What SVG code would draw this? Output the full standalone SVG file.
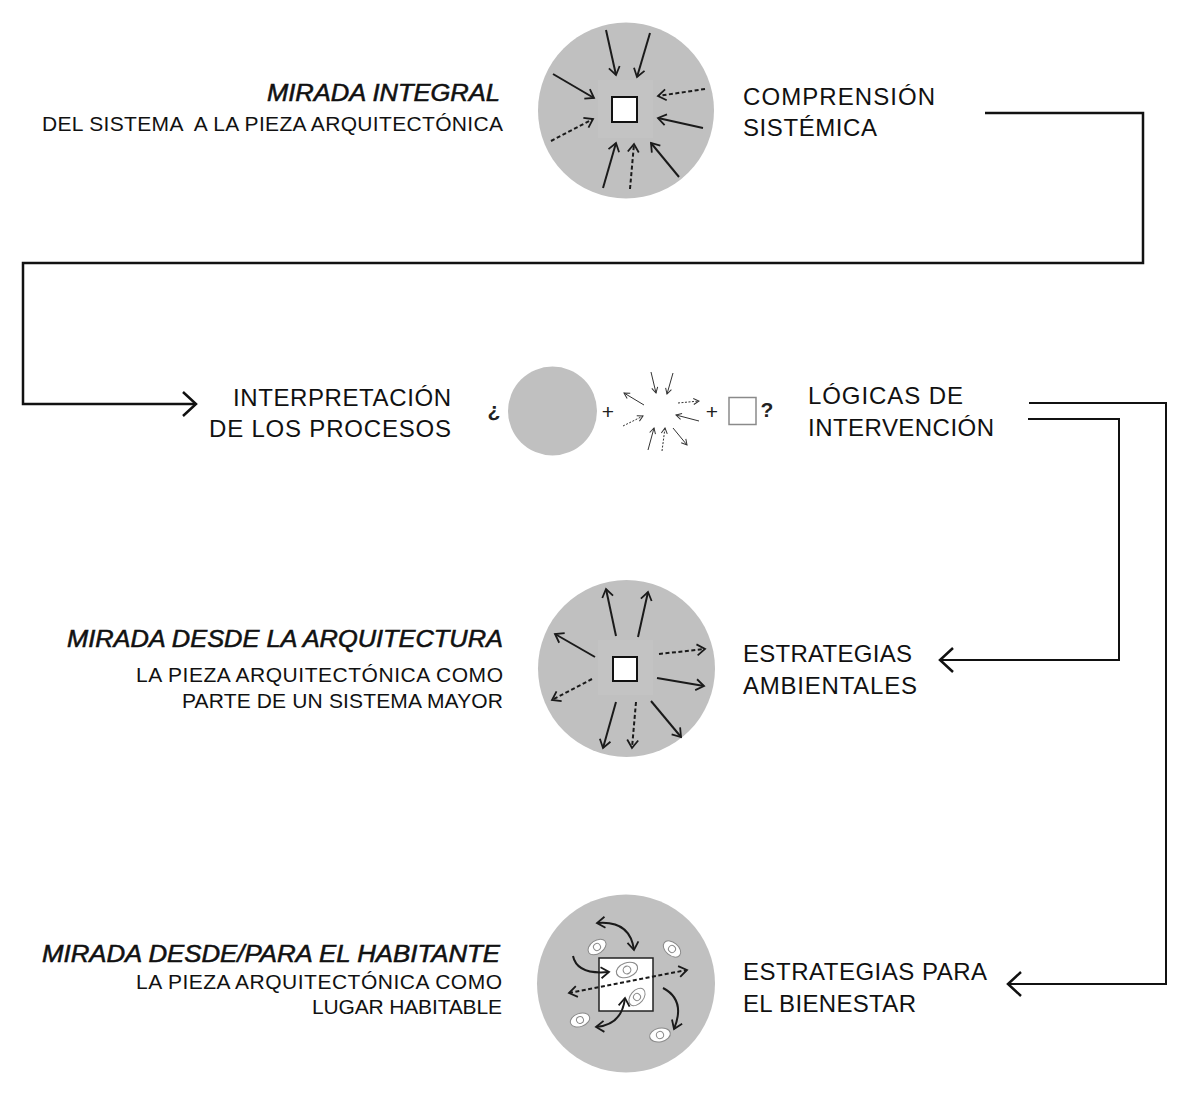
<svg xmlns="http://www.w3.org/2000/svg" width="1192" height="1094" viewBox="0 0 1192 1094">
<style>
.lbl{font-family:"Liberation Sans",Arial,sans-serif;font-size:24px;fill:#111}
.sub{font-family:"Liberation Sans",Arial,sans-serif;font-size:21px;fill:#111}
.ttl{font-family:"Liberation Sans",Arial,sans-serif;font-style:italic;font-weight:normal;font-size:23.5px;fill:#111;stroke:#111;stroke-width:0.55}
.sym{font-family:"Liberation Sans",Arial,sans-serif;font-size:21px;fill:#222;text-anchor:middle}
.disc{fill:#c0c0c0}
.halo{fill:#c3c3c3}
.a{fill:none;stroke:#1a1a1a;stroke-width:2;marker-end:url(#ah)}
.d{stroke-dasharray:4 2.5}
.s{fill:none;stroke:#333;stroke-width:1;marker-end:url(#as)}
.sd{stroke-dasharray:2 1.5}
.c{fill:none;stroke:#111;stroke-linejoin:miter}
.b{marker-start:url(#ah)}
</style>
<defs>
<marker id="ah" viewBox="0 0 12 14" refX="10" refY="7" markerWidth="12" markerHeight="14" markerUnits="userSpaceOnUse" orient="auto-start-reverse"><path d="M2,1.5 L10,7 L2,12.5" fill="none" stroke="#1a1a1a" stroke-width="1.8"/></marker>
<marker id="as" viewBox="0 0 8 8" refX="7" refY="4" markerWidth="8" markerHeight="8" markerUnits="userSpaceOnUse" orient="auto"><path d="M1.5,1 L7,4 L1.5,7" fill="none" stroke="#333" stroke-width="1"/></marker>
<marker id="ac" viewBox="0 0 17 28" refX="15" refY="14" markerWidth="17" markerHeight="28" markerUnits="userSpaceOnUse" orient="auto"><path d="M2,2 L15,14 L2,26" fill="none" stroke="#111" stroke-width="2.5"/></marker>
<g id="person"><ellipse cx="0" cy="0" rx="10" ry="6.5" fill="#fff" stroke="#8a8a8a" stroke-width="1"/><circle cx="0" cy="0" r="3.5" fill="none" stroke="#8a8a8a" stroke-width="1"/></g>
</defs>

<g id="connectors">
<polyline class="c" stroke-width="2.5" points="985,113 1143,113 1143,263 23,263 23,404 196,404" marker-end="url(#ac)"/>
<polyline class="c" stroke-width="2" points="1029,403 1166,403 1166,984 1008,984" marker-end="url(#ac)"/>
<polyline class="c" stroke-width="2" points="1028,419 1119,419 1119,660 940,660" marker-end="url(#ac)"/>
</g>

<g id="node-integral">
<text class="ttl" x="267" y="100.5" textLength="233" lengthAdjust="spacingAndGlyphs">MIRADA INTEGRAL</text>
<text class="sub" x="42" y="131" textLength="461" xml:space="preserve">DEL SISTEMA  A LA PIEZA ARQUITECTÓNICA</text>
</g>

<g id="node-circle-1">
<circle class="disc" cx="626" cy="110.5" r="88"/>
<rect class="halo" x="598" y="80" width="55" height="58"/>
<rect x="612" y="97" width="25" height="25" fill="#fff" stroke="#111" stroke-width="2"/>
<path class="a" d="M606,30 L616,75"/>
<path class="a" d="M650,33 L637,77"/>
<path class="a" d="M553,74 L594,98"/>
<path class="a d" d="M705,89 L658,96"/>
<path class="a" d="M703,128 L658,118"/>
<path class="a d" d="M551,141 L593,119"/>
<path class="a" d="M603,188 L616,143"/>
<path class="a d" d="M630,189 L634,144"/>
<path class="a" d="M679,177 L651,143"/>
</g>

<g id="node-comprension">
<text class="lbl" x="743" y="104.5" textLength="192">COMPRENSIÓN</text>
<text class="lbl" x="743" y="136" textLength="134">SISTÉMICA</text>
</g>

<g id="node-interpretacion">
<text class="lbl" x="233" y="405.5" textLength="218">INTERPRETACIÓN</text>
<text class="lbl" x="209" y="437" textLength="242">DE LOS PROCESOS</text>
</g>

<g id="node-equation">
<text class="sym" x="494" y="417" font-weight="bold" font-size="14">¿</text>
<circle class="disc" cx="552.5" cy="411" r="44.5"/>
<text class="sym" x="608" y="419">+</text>
<path class="s" d="M651,372 L656,393"/>
<path class="s" d="M673,373 L667,394"/>
<path class="s" d="M644,405 L624,393"/>
<path class="s sd" d="M678,403 L699,401"/>
<path class="s sd" d="M623,426 L643,416"/>
<path class="s" d="M699,421 L676,415"/>
<path class="s" d="M648,450 L654,428"/>
<path class="s sd" d="M662,451 L665,428"/>
<path class="s" d="M673,428 L687,445"/>
<text class="sym" x="712" y="419">+</text>
<rect x="729" y="397.5" width="27" height="27" fill="#fff" stroke="#8a8a8a" stroke-width="1.5"/>
<text class="sym" x="767" y="417" font-weight="bold" font-size="14">?</text>
</g>

<g id="node-logicas">
<text class="lbl" x="808" y="404" textLength="155">LÓGICAS DE</text>
<text class="lbl" x="808" y="436" textLength="186">INTERVENCIÓN</text>
</g>

<g id="node-arquitectura">
<text class="ttl" x="67" y="647" textLength="436" lengthAdjust="spacingAndGlyphs">MIRADA DESDE LA ARQUITECTURA</text>
<text class="sub" x="136" y="682" textLength="367">LA PIEZA ARQUITECTÓNICA COMO</text>
<text class="sub" x="182" y="708" textLength="321">PARTE DE UN SISTEMA MAYOR</text>
</g>

<g id="node-circle-3">
<circle class="disc" cx="626.5" cy="668.5" r="88.5"/>
<rect class="halo" x="598" y="640" width="55" height="55"/>
<rect x="613" y="657" width="24" height="24" fill="#fff" stroke="#111" stroke-width="2"/>
<path class="a" d="M616,636 L606,589"/>
<path class="a" d="M638,637 L648,592"/>
<path class="a" d="M595,657 L555,634"/>
<path class="a d" d="M659,654 L705,649"/>
<path class="a" d="M657,678 L704,686"/>
<path class="a d" d="M592,679 L552,700"/>
<path class="a" d="M616,702 L603,748"/>
<path class="a d" d="M636,702 L632,748"/>
<path class="a" d="M651,701 L681,737"/>
</g>

<g id="node-ambientales">
<text class="lbl" x="743" y="662" textLength="169">ESTRATEGIAS</text>
<text class="lbl" x="743" y="694" textLength="174">AMBIENTALES</text>
</g>

<g id="node-habitante">
<text class="ttl" x="42" y="962" textLength="458" lengthAdjust="spacingAndGlyphs">MIRADA DESDE/PARA EL HABITANTE</text>
<text class="sub" x="136" y="989" textLength="366">LA PIEZA ARQUITECTÓNICA COMO</text>
<text class="sub" x="312" y="1014" textLength="190">LUGAR HABITABLE</text>
</g>

<g id="node-circle-4">
<circle class="disc" cx="626" cy="983.5" r="89"/>
<rect x="599" y="958" width="54" height="53" fill="#fff" stroke="#222" stroke-width="1.5"/>
<use href="#person" transform="translate(597,947) rotate(-35)"/>
<use href="#person" transform="translate(672,949) rotate(40)"/>
<use href="#person" transform="translate(627,970) rotate(-20) scale(1.1)"/>
<use href="#person" transform="translate(637,997) rotate(-50)"/>
<use href="#person" transform="translate(580,1020) rotate(-20)"/>
<use href="#person" transform="translate(660,1035) rotate(-12) scale(1.05)"/>
<path class="a b" d="M597,923 Q630,920 634,950"/>
<path class="a" d="M573,956 Q577,975 609,972"/>
<path class="a b d" d="M569,993 L687,970"/>
<path class="a b" d="M596,1027 Q622,1025 625,998"/>
<path class="a" d="M663,988 Q686,1000 674,1029"/>
</g>

<g id="node-bienestar">
<text class="lbl" x="743" y="980" textLength="244">ESTRATEGIAS PARA</text>
<text class="lbl" x="743" y="1012" textLength="173">EL BIENESTAR</text>
</g>
</svg>
